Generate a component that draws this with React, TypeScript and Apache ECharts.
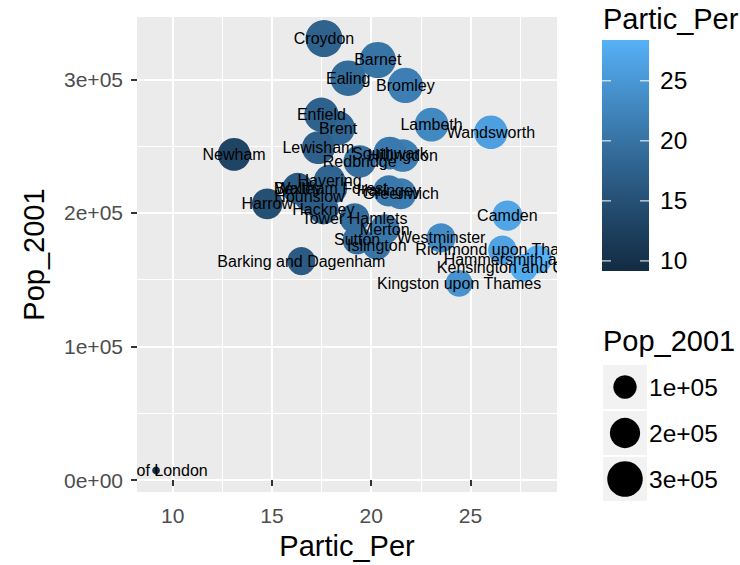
import React, { useEffect, useRef } from "react";
import * as echarts from "echarts";

// ---- data ----
const boroughs = [
  "City of London", "Barking and Dagenham", "Barnet", "Bexley", "Brent", "Bromley",
  "Camden", "Croydon", "Ealing", "Enfield", "Greenwich", "Hackney",
  "Hammersmith and Fulham", "Haringey", "Harrow", "Havering", "Hillingdon", "Hounslow",
  "Islington", "Kensington and Chelsea", "Kingston upon Thames", "Lambeth", "Lewisham", "Merton",
  "Newham", "Redbridge", "Richmond upon Thames", "Southwark", "Sutton", "Tower Hamlets",
  "Waltham Forest", "Wandsworth", "Westminster",
];
const particPer = [
  9.16, 16.48, 20.33, 16.3, 18.33, 21.72,
  26.86, 17.62, 18.84, 17.49, 21.49, 17.59,
  28.4, 20.89, 14.76, 17.9, 21.59, 16.89,
  20.28, 27.7, 24.43, 23.04, 17.34, 20.68,
  13.09, 19.42, 26.61, 20.94, 19.29, 19.16,
  18.0, 26.03, 23.52,
];
const pop2001 = [
  7185, 163944, 314564, 218307, 263464, 295532,
  198020, 330587, 300948, 273559, 214403, 202824,
  165242, 216507, 206814, 224248, 243006, 212341,
  175797, 158919, 147273, 266169, 248922, 187908,
  243891, 238635, 172335, 244866, 179768, 196106,
  218341, 260380, 181286,
];
const xBreaks = [10, 15, 20, 25];
const yBreaks = [0, 100000, 200000, 300000];
const colourBreaks = [10, 15, 20, 25];
const sizeBreaks = [100000, 200000, 300000];

const FONT = "'Liberation Sans', Arial, Helvetica, sans-serif";
const LOW = "#132B43";
const HIGH = "#56B1F7";

// ---- colour scale (Lab interpolation like ggplot) ----
function hex2rgb(h: string) {
  const n = parseInt(h.slice(1), 16);
  return [(n >> 16) & 255, (n >> 8) & 255, n & 255];
}
const lin = (c: number) => { c /= 255; return c <= 0.04045 ? c / 12.92 : Math.pow((c + 0.055) / 1.055, 2.4); };
const delin = (c: number) => {
  const v = c <= 0.0031308 ? 12.92 * c : 1.055 * Math.pow(c, 1 / 2.4) - 0.055;
  return Math.round(Math.min(1, Math.max(0, v)) * 255);
};
const Xn = 0.95047, Zn = 1.08883;
const fL = (t: number) => (t > 216 / 24389 ? Math.cbrt(t) : ((24389 / 27) * t + 16) / 116);
const fLinv = (t: number) => (t * t * t > 216 / 24389 ? t * t * t : (116 * t - 16) / (24389 / 27));
function rgb2lab(rgb: number[]) {
  const R = lin(rgb[0]), G = lin(rgb[1]), B = lin(rgb[2]);
  const X = (0.4124564 * R + 0.3575761 * G + 0.1804375 * B) / Xn;
  const Y = 0.2126729 * R + 0.7151522 * G + 0.072175 * B;
  const Z = (0.0193339 * R + 0.119192 * G + 0.9503041 * B) / Zn;
  const fx = fL(X), fy = fL(Y), fz = fL(Z);
  return [116 * fy - 16, 500 * (fx - fy), 200 * (fy - fz)];
}
function lab2rgb(lab: number[]) {
  const fy = (lab[0] + 16) / 116, fx = fy + lab[1] / 500, fz = fy - lab[2] / 200;
  const X = fLinv(fx) * Xn, Y = fLinv(fy), Z = fLinv(fz) * Zn;
  const R = 3.2404542 * X - 1.5371385 * Y - 0.4985314 * Z;
  const G = -0.969266 * X + 1.8760108 * Y + 0.041556 * Z;
  const B = 0.0556434 * X - 0.2040259 * Y + 1.0572252 * Z;
  return `rgb(${delin(R)},${delin(G)},${delin(B)})`;
}
const labLow = rgb2lab(hex2rgb(LOW));
const labHigh = rgb2lab(hex2rgb(HIGH));
const cMin = Math.min(...particPer);
const cMax = Math.max(...particPer);
function colourAt(t: number) {
  return lab2rgb(labLow.map((v, i) => v + (labHigh[i] - v) * t));
}
const colour = (v: number) => colourAt((v - cMin) / (cMax - cMin));

// ---- size scale (area, range 1..6 like ggplot) ----
const pMin = Math.min(...pop2001);
const pMax = Math.max(...pop2001);
function diameter(p: number) {
  const s = 1 + 5 * Math.sqrt(Math.max(0, (p - pMin) / (pMax - pMin)));
  return 2.05 * (2.845 * s + 0.945);
}

function sci(v: number) {
  if (v === 0) return "0e+00";
  const e = Math.floor(Math.log10(Math.abs(v)));
  const m = +(v / Math.pow(10, e)).toFixed(2);
  return `${m}e${e < 0 ? "-" : "+"}${String(Math.abs(e)).padStart(2, "0")}`;
}

export default function App() {
  const ref = useRef<HTMLDivElement>(null);
  useEffect(() => {
    if (!ref.current) return;
    const chart = echarts.init(ref.current, undefined, { renderer: "svg" });

    const xPad = (cMax - cMin) * 0.05;
    const yPad = (pMax - pMin) * 0.05;

    const gridL = 137, gridT = 17, gridR = 557, gridB = 493;
    const TITLE = 29;
    const LEGTXT = 24.5;

    const majorX = xBreaks.map((b) => ({ xAxis: b, lineStyle: { color: "#fff", width: 2.1, type: "solid" } }));
    const minorX = xBreaks.map((b) => b + 2.5).map((b) => ({ xAxis: b, lineStyle: { color: "#fff", width: 1, type: "solid" } }));
    const majorY = yBreaks.map((b) => ({ yAxis: b, lineStyle: { color: "#fff", width: 2.1, type: "solid" } }));
    const minorY = yBreaks.map((b) => b + 50000).filter((b) => b < pMax + yPad).map((b) => ({ yAxis: b, lineStyle: { color: "#fff", width: 1, type: "solid" } }));

    // colourbar legend
    const barX = 602, barY = 40, barW = 47, barH = 231;
    const stops = [];
    for (let i = 0; i <= 20; i++) stops.push({ offset: i / 20, color: colourAt(1 - i / 20) });
    const cbY = (v: number) => barY + ((cMax - v) / (cMax - cMin)) * barH;
    const legendEls: any[] = [
      { type: "text", x: 603, y: 19, z: 110, style: { text: "Partic_Per", fontSize: TITLE, fontFamily: FONT, fill: "#000", verticalAlign: "middle", align: "left" } },
      { type: "rect", z: 110, shape: { x: barX, y: barY, width: barW, height: barH }, style: { fill: { type: "linear", x: 0, y: 0, x2: 0, y2: 1, colorStops: stops } } },
    ];
    colourBreaks.forEach((b) => {
      const y = cbY(b);
      legendEls.push({ type: "line", z: 111, shape: { x1: barX, y1: y, x2: barX + 9, y2: y }, style: { stroke: "#fff", lineWidth: 1 } });
      legendEls.push({ type: "line", z: 111, shape: { x1: barX + barW - 9, y1: y, x2: barX + barW, y2: y }, style: { stroke: "#fff", lineWidth: 1 } });
      legendEls.push({ type: "text", x: 660, y, z: 111, style: { text: String(b), fontSize: LEGTXT, fontFamily: FONT, fill: "#000", verticalAlign: "middle", align: "left" } });
    });
    // size legend
    legendEls.push({ type: "text", x: 603, y: 341, z: 110, style: { text: "Pop_2001", fontSize: TITLE, fontFamily: FONT, fill: "#000", verticalAlign: "middle", align: "left" } });
    const keyTops = [365, 411, 457];
    sizeBreaks.forEach((b, i) => {
      const y0 = keyTops[i];
      legendEls.push({ type: "rect", z: 110, shape: { x: 603, y: y0, width: 44, height: 44 }, style: { fill: "#F2F2F2" } });
      legendEls.push({ type: "circle", z: 111, shape: { cx: 625, cy: y0 + 22, r: diameter(b) / 2 }, style: { fill: "#000" } });
      legendEls.push({ type: "text", x: 649, y: y0 + 22, z: 111, style: { text: sci(b), fontSize: LEGTXT, fontFamily: FONT, fill: "#000", verticalAlign: "middle", align: "left" } });
    });

    // white covers emulate the panel clip of labels
    const covers = [
      { type: "rect", z: 100, shape: { x: 0, y: 0, width: gridL, height: 565 }, style: { fill: "#fff" } },
      { type: "rect", z: 100, shape: { x: gridR, y: 0, width: 740 - gridR, height: 565 }, style: { fill: "#fff" } },
      { type: "rect", z: 100, shape: { x: 0, y: 0, width: 740, height: gridT }, style: { fill: "#fff" } },
      { type: "rect", z: 100, shape: { x: 0, y: gridB, width: 740, height: 565 - gridB }, style: { fill: "#fff" } },
    ];

    chart.setOption({
      animation: false,
      textStyle: { fontFamily: FONT },
      grid: {
        left: gridL, top: gridT, right: 740 - gridR, bottom: 565 - gridB,
        show: true, backgroundColor: "#EBEBEB", borderWidth: 0,
      },
      xAxis: {
        type: "value",
        min: cMin - xPad,
        max: cMax + xPad,
        z: 200,
        name: "Partic_Per",
        nameLocation: "middle",
        nameGap: 39,
        nameTextStyle: { fontSize: TITLE, color: "#000", fontFamily: FONT },
        axisLine: { show: false },
        axisTick: { show: true, length: 6, lineStyle: { color: "#333333", width: 2 }, customValues: xBreaks },
        axisLabel: { customValues: xBreaks, fontSize: 21, color: "#4D4D4D", margin: 13, fontFamily: FONT },
        splitLine: { show: false },
      },
      yAxis: {
        type: "value",
        min: pMin - yPad,
        max: pMax + yPad,
        z: 200,
        name: "Pop_2001",
        nameLocation: "middle",
        nameRotate: 90,
        nameGap: 89,
        nameTextStyle: { fontSize: TITLE, color: "#000", fontFamily: FONT },
        axisLine: { show: false },
        axisTick: { show: true, length: 6, lineStyle: { color: "#333333", width: 2 }, customValues: yBreaks },
        axisLabel: { customValues: yBreaks, fontSize: 21, color: "#4D4D4D", margin: 14, fontFamily: FONT, formatter: (v: number) => sci(v) },
        splitLine: { show: false },
      },
      series: [
        {
          type: "scatter",
          data: [],
          silent: true,
          z: 1,
          markLine: {
            silent: true,
            z: 1,
            symbol: "none",
            animation: false,
            label: { show: false },
            emphasis: { disabled: true },
            data: [...minorX, ...minorY, ...majorX, ...majorY],
          },
        },
        {
          type: "scatter",
          z: 2,
          silent: true,
          data: boroughs.map((n, i) => ({
            name: n,
            value: [particPer[i], pop2001[i]],
            symbolSize: diameter(pop2001[i]),
            itemStyle: { color: colour(particPer[i]), opacity: 1 },
          })),
          label: {
            show: true,
            position: "inside",
            formatter: "{b}",
            fontSize: 16,
            color: "#000",
            fontFamily: FONT,
          },
          emphasis: { disabled: true },
        },
      ],
      graphic: { elements: [...covers, ...legendEls] },
    });
    return () => chart.dispose();
  }, []);
  return <div ref={ref} style={{ position: "fixed", left: 0, top: 0, width: 740, height: 565, background: "#fff" }} />;
}
